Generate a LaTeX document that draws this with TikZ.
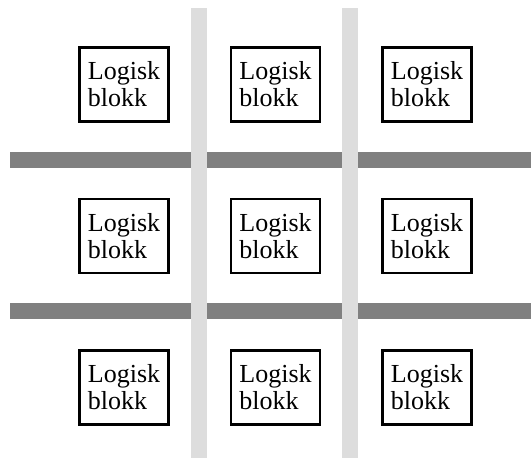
\documentclass[tikz,border=0pt]{standalone}
\usepackage{fontspec}
\setmainfont{Liberation Serif}
\definecolor{busdark}{HTML}{808080}
\definecolor{buslight}{HTML}{DDDDDD}
\tikzset{
  blokk/.style={draw, line width=2.6pt, minimum width=89pt, minimum height=74pt,
    align=left, inner sep=0pt, font=\fontsize{26}{27}\selectfont},
  hbus/.style={fill=busdark},
  vbus/.style={fill=buslight}
}
\begin{document}
\begin{tikzpicture}[x=1pt,y=-1pt]
  \useasboundingbox (0,0) rectangle (531,460);
  % horizontal routing
  \foreach \y in {160,311} \fill[hbus] (10,\y-8) rectangle (531,\y+8);
  % vertical routing
  \foreach \x in {199,350} \fill[vbus] (\x-8,8) rectangle (\x+8,458);
  % logic blocks
  \foreach \c/\x in {1/124,2/275.5,3/427}
    \foreach \r/\y in {1/84.5,2/236,3/387.5}
      \node[blokk] (blk-\r-\c) at (\x,\y) {Logisk\\blokk};
\end{tikzpicture}
\end{document}
